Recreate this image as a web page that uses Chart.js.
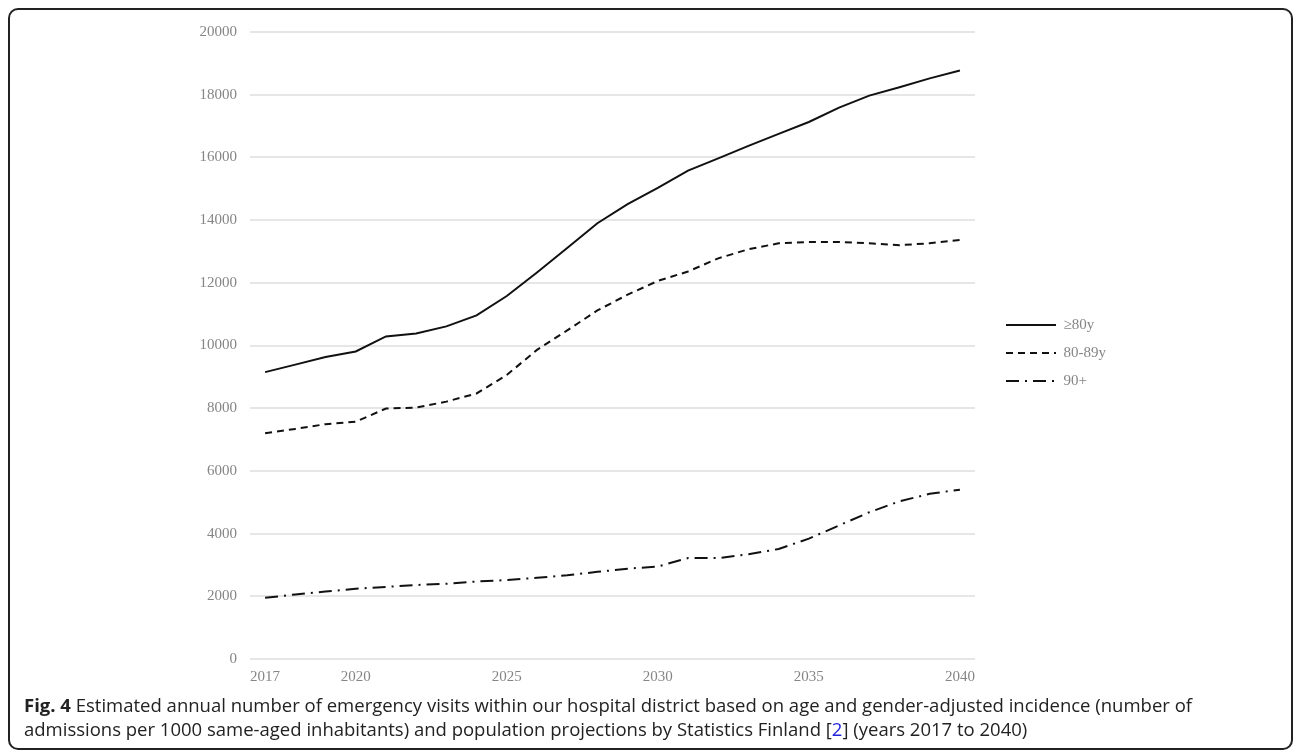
<!DOCTYPE html>
<html>
<head>
<meta charset="utf-8">
<script src="https://cdn.jsdelivr.net/npm/chart.js@4"></script>
<style>
  html, body { margin: 0; padding: 0; background: #fff; }
  body { width: 1295px; height: 752px; position: relative; overflow: hidden; }
  #frame { position: absolute; left: 8px; top: 8px; width: 1285px; height: 742px;
           border: 2px solid #222; border-radius: 10px; box-sizing: border-box; }
  #wrap { position: absolute; left: 0; top: 0; width: 1295px; height: 700px; }
  #caption { position: absolute; left: 24px; top: 693px; width: 1255px;
             font-family: "Open Sans", sans-serif; font-size: 18.5px; line-height: 24px; color: #222; }
  #caption b { font-weight: 700; }
  #caption .ref { color: #2222dd; }
</style>
</head>
<body>
<div id="frame"></div>
<div id="wrap"><canvas id="c"></canvas></div>
<div id="caption"><b>Fig. 4</b> Estimated annual number of emergency visits within our hospital district based on age and gender-adjusted incidence (number of admissions per 1000 same-aged inhabitants) and population projections by Statistics Finland [<span class="ref">2</span>] (years 2017 to 2040)</div>
<script>
const categories = ['2017','2018','2019','2020','2021','2022','2023','2024','2025','2026','2027','2028','2029','2030','2031','2032','2033','2034','2035','2036','2037','2038','2039','2040'];
const xTickLabels = ['2017','2020','2025','2030','2035','2040'];
const seriesNames = ['\u226580y', '80-89y', '90+'];
const over80 = [9150,9390,9630,9810,10290,10380,10610,10960,11580,12330,13110,13900,14510,15030,15580,15970,16370,16750,17130,17590,17970,18240,18520,18770];
const age80to89 = [7200,7340,7490,7570,7990,8020,8210,8470,9060,9860,10480,11120,11620,12060,12360,12780,13070,13260,13300,13300,13260,13200,13260,13370];
const age90plus = [1950,2060,2150,2240,2300,2360,2400,2470,2520,2590,2670,2780,2880,2950,3220,3220,3340,3510,3840,4260,4680,5030,5270,5400];

const serif = '"Liberation Serif", "Times New Roman", serif';
const gray = '#858585';
const dashes = [[], [7, 5], [13, 6, 2, 6]];

new Chart(document.getElementById('c'), {
  type: 'line',
  data: {
    labels: categories,
    datasets: [
      { label: seriesNames[0], data: over80, borderColor: '#111', borderWidth: 2, borderDash: dashes[0], pointRadius: 0, tension: 0, fill: false },
      { label: seriesNames[1], data: age80to89, borderColor: '#111', borderWidth: 2, borderDash: dashes[1], pointRadius: 0, tension: 0, fill: false },
      { label: seriesNames[2], data: age90plus, borderColor: '#111', borderWidth: 2, borderDash: dashes[2], pointRadius: 0, tension: 0, fill: false }
    ]
  },
  options: {
    responsive: true,
    maintainAspectRatio: false,
    animation: false,
    layout: { padding: { left: 199, top: 32, right: 179, bottom: 5 } },
    plugins: {
      tooltip: { enabled: false },
      legend: {
        position: 'right',
        align: 'center',
        fullSize: false,
        title: { display: true, text: ' ', font: { size: 10 }, padding: { top: 0, bottom: 3 } },
        labels: {
          usePointStyle: true,
          pointStyle: 'line',
          pointStyleWidth: 50,
          padding: 13,
          color: gray,
          font: { family: serif, size: 15 },
          generateLabels: function(chart) {
            const base = Chart.defaults.plugins.legend.labels.generateLabels(chart);
            return base.map(function(item, i) {
              item.lineDash = chart.data.datasets[i].borderDash;
              item.lineWidth = 2;
              item.strokeStyle = '#111';
              return item;
            });
          }
        }
      }
    },
    scales: {
      x: {
        type: 'category',
        offset: true,
        grid: { display: false, drawTicks: false },
        border: { display: false },
        ticks: {
          autoSkip: false, maxRotation: 0, padding: 9,
          color: gray, font: { family: serif, size: 15 },
          callback: function(v, i) { const l = categories[i]; return xTickLabels.includes(l) ? l : ''; }
        }
      },
      y: {
        min: 0, max: 20000,
        grid: { color: '#e6e6e6', lineWidth: 2, drawTicks: false },
        border: { display: false },
        ticks: { stepSize: 2000, padding: 13, color: gray, font: { family: serif, size: 15 },
                 callback: function(v) { return String(v); } },
        afterFit: function(s) { s.width = 51; }
      },
      yPad: {
        position: 'right',
        display: true,
        grid: { display: false, drawTicks: false },
        border: { display: false },
        ticks: { display: false },
        afterFit: function(s) { s.width = 18; }
      }
    }
  }
});
</script>
</body>
</html>
